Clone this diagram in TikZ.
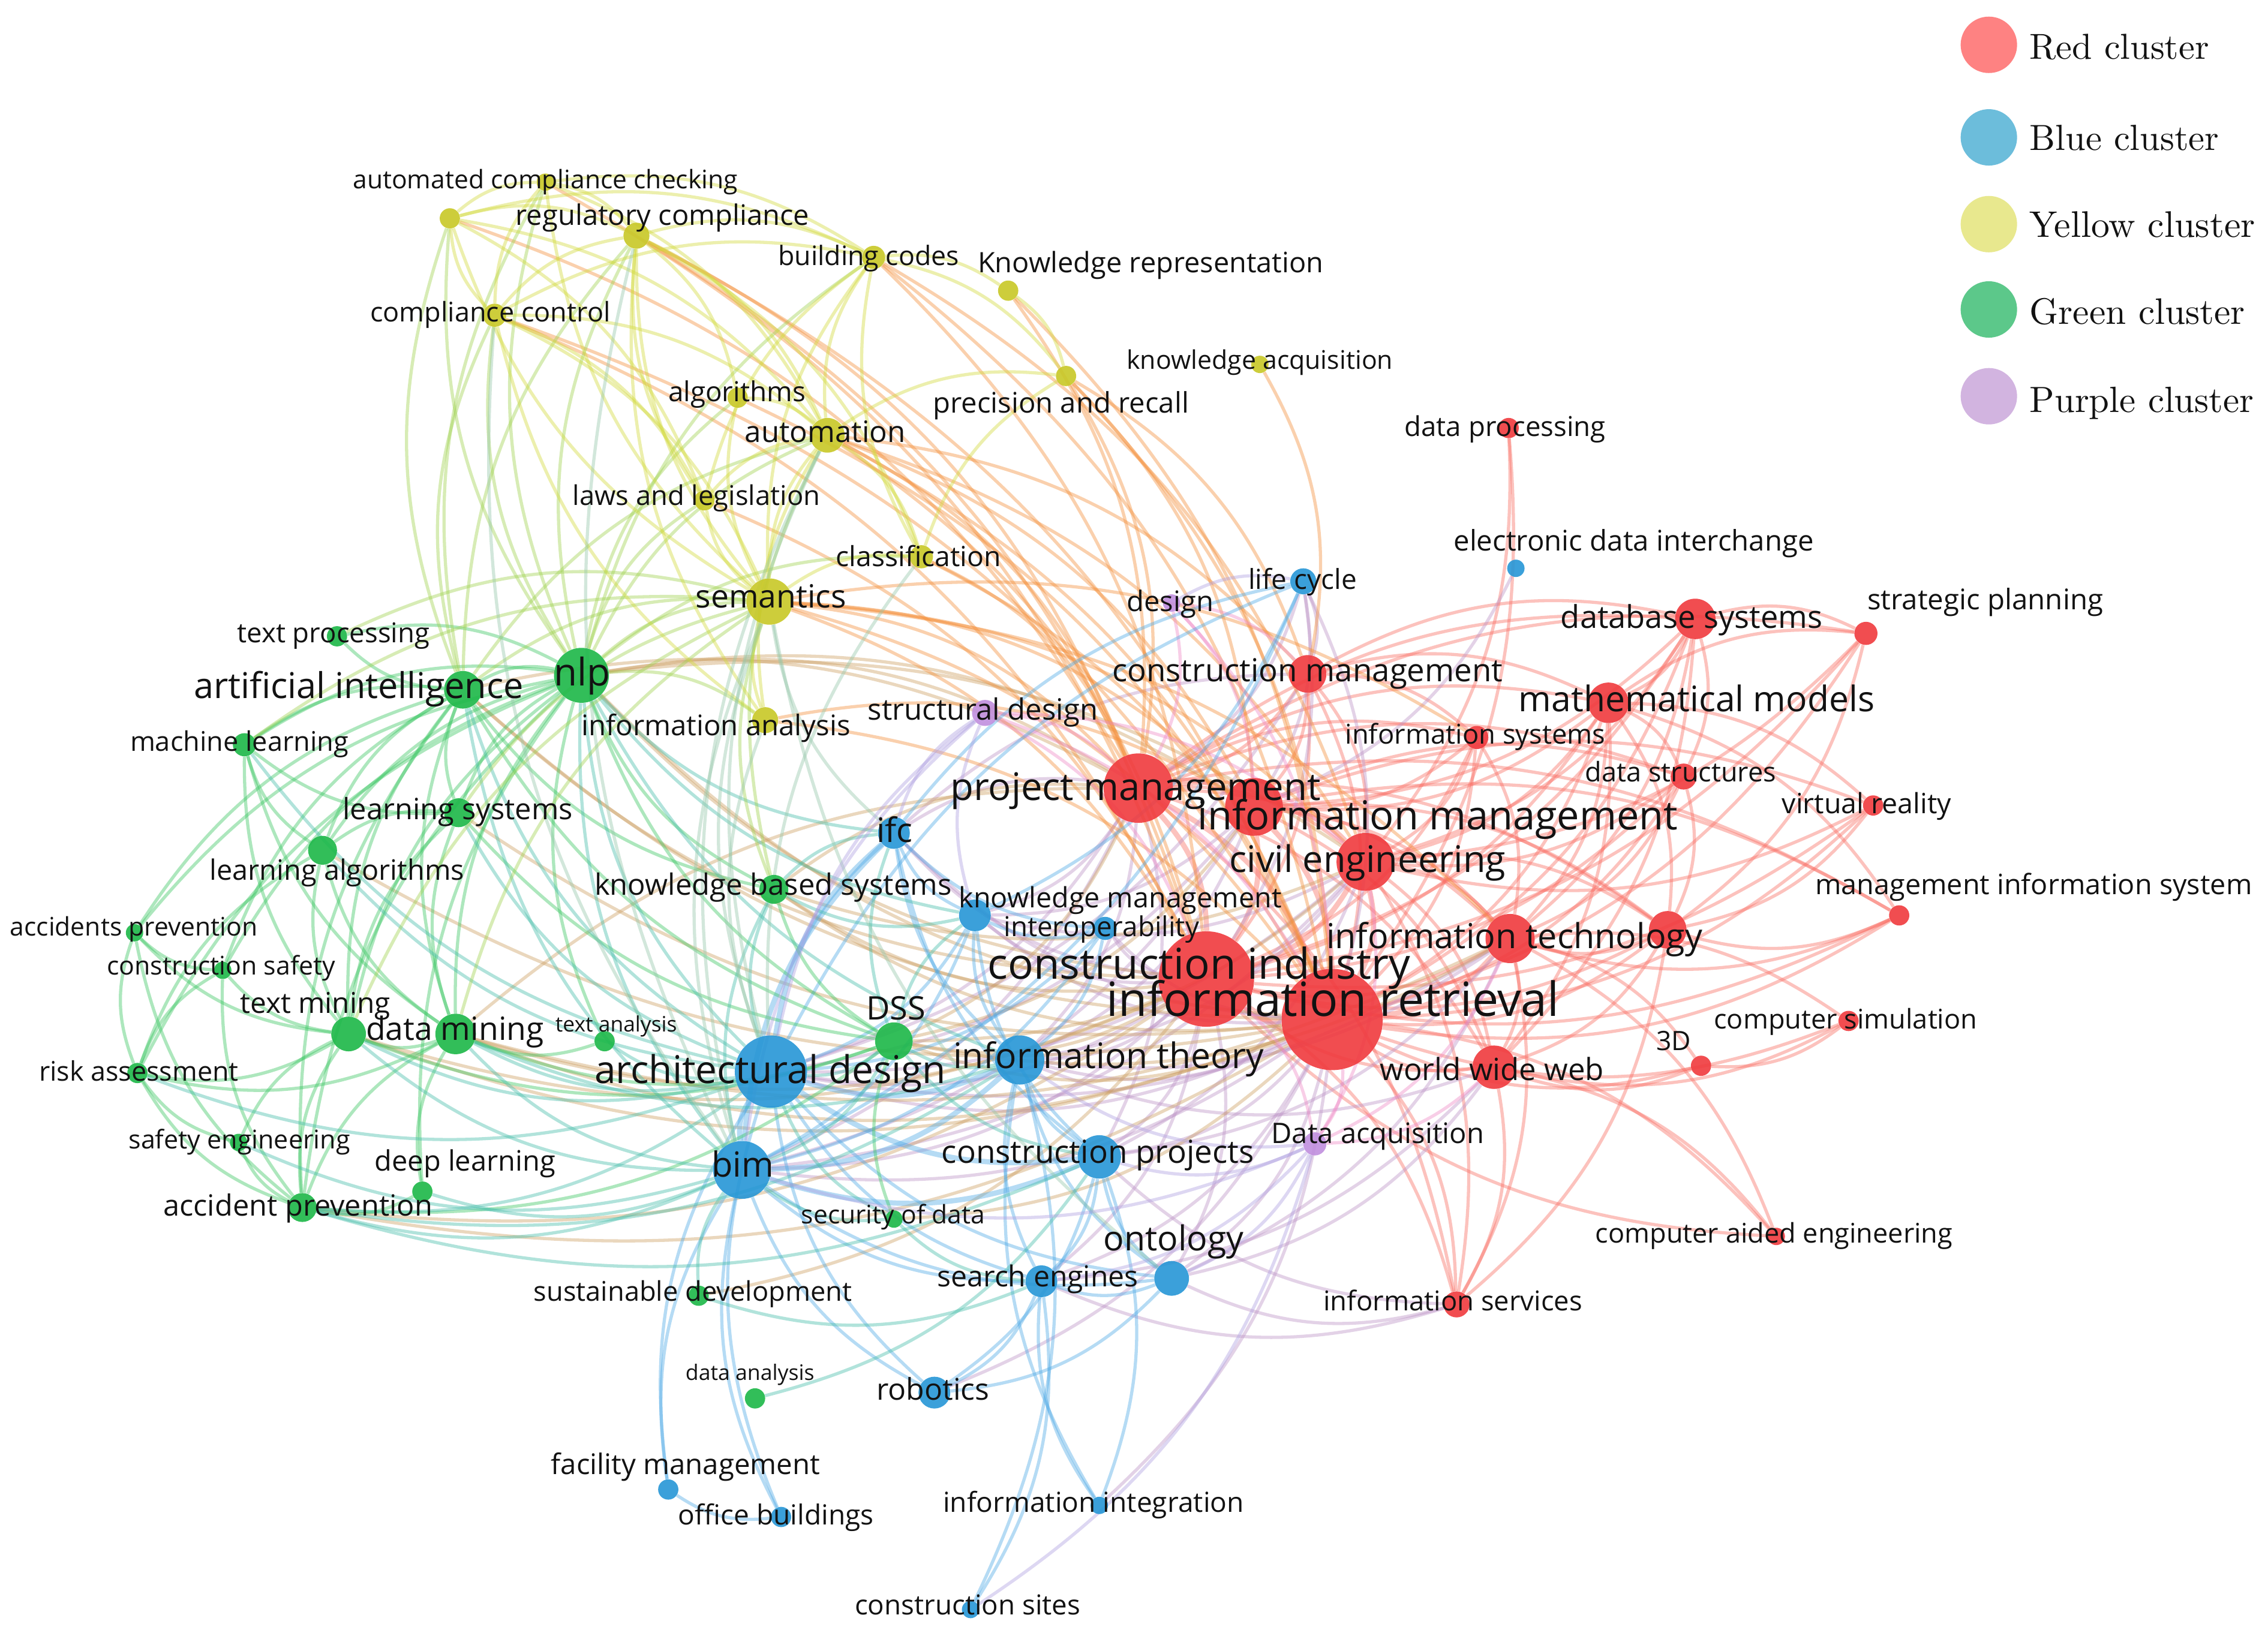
\documentclass[tikz,border=0pt]{standalone}
\usepackage{fontspec}
\newfontfamily\osans{Open Sans}
\usepackage{graphicx}
\usetikzlibrary{calc}
\pgfdeclarelayer{bg}
\pgfdeclarelayer{edges}
\pgfsetlayers{bg,edges,main}
% node colours
\definecolor{nR}{RGB}{240,58,62}
\definecolor{nB}{RGB}{38,150,214}
\definecolor{nG}{RGB}{28,184,72}
\definecolor{nY}{RGB}{200,200,38}
\definecolor{nP}{RGB}{192,142,222}
% legend colours
\definecolor{lgR}{RGB}{254,130,130}
\definecolor{lgB}{RGB}{108,189,219}
\definecolor{lgY}{RGB}{232,232,142}
\definecolor{lgG}{RGB}{92,200,138}
\definecolor{lgP}{RGB}{210,180,224}
% edge colours
\definecolor{cRR}{RGB}{250,110,100}
\definecolor{cBB}{RGB}{80,170,230}
\definecolor{cGG}{RGB}{60,200,100}
\definecolor{cYY}{RGB}{210,218,60}
\definecolor{cRY}{RGB}{245,145,60}
\definecolor{cRB}{RGB}{190,150,200}
\definecolor{cRG}{RGB}{205,160,100}
\definecolor{cBG}{RGB}{70,190,170}
\definecolor{cGY}{RGB}{160,210,80}
\definecolor{cBY}{RGB}{150,200,170}
\definecolor{cRP}{RGB}{240,140,200}
\definecolor{cBP}{RGB}{175,160,225}
\definecolor{txt}{RGB}{18,18,18}
\tikzset{
  kw/.style={circle,inner sep=0pt,draw=none,fill opacity=.9},
  rn/.style={kw,fill=nR,minimum size=2*#1},
  bn/.style={kw,fill=nB,minimum size=2*#1},
  gn/.style={kw,fill=nG,minimum size=2*#1},
  yn/.style={kw,fill=nY,minimum size=2*#1},
  pn/.style={kw,fill=nP,minimum size=2*#1},
  lab/.style={inner sep=0pt,text=txt},
  ebase/.style={line width=2.2pt,draw opacity=.42},
  hv/.style={line width=3.6pt},
  eRR/.style={ebase,draw=cRR}, eBB/.style={ebase,draw=cBB},
  eGG/.style={ebase,draw=cGG}, eYY/.style={ebase,draw=cYY},
  eRY/.style={ebase,draw=cRY}, eRB/.style={ebase,draw=cRB},
  eRG/.style={ebase,draw=cRG}, eBG/.style={ebase,draw=cBG},
  eGY/.style={ebase,draw=cGY}, eBY/.style={ebase,draw=cBY},
  eRP/.style={ebase,draw=cRP}, eBP/.style={ebase,draw=cBP},
  legc/.style={circle,inner sep=0pt,draw=none,minimum size=39},
  legl/.style={inner sep=0pt,anchor=west,text=txt}
}
\newcommand\kwl[2]{\resizebox{#1pt}{!}{\osans\strut #2}}
\newcommand\legt[2]{\resizebox{#1pt}{!}{\strut #2}}
\newcommand\kwlink[3]{\draw[#1] let \p1=(#2), \p2=(#3),
  \n1={20*sign((\x2-\x1)/100*((\y1+\y2)/200+6)-(\y2-\y1)/100*((\x1+\x2)/200-7))}
  in (#2) to[bend left=\n1] (#3);}
\begin{document}
\begin{tikzpicture}[x=1pt,y=-1pt]
\begin{pgfonlayer}{bg}
\fill[white] (0,0) rectangle (1568,1131);
\end{pgfonlayer}
\useasboundingbox (0,0) rectangle (1568,1131);
% ---------- red nodes
\node[rn=35] (ir) at (921,705) {};
\node[rn=33] (ci) at (834,677) {};
\node[rn=24] (pm) at (787,545) {};
\node[rn=20] (im) at (867,558) {};
\node[rn=20] (ce) at (944,596) {};
\node[rn=17] (it) at (1044,649) {};
\node[rn=13] (xr) at (1153,643) {};
\node[rn=15] (www) at (1033,738) {};
\node[rn=14] (dbs) at (1172,428) {};
\node[rn=14] (mm) at (1112,486) {};
\node[rn=13] (cm) at (904,466) {};
\node[rn=8] (isys) at (1021,510) {};
\node[rn=9] (dstr) at (1164,537) {};
\node[rn=8] (sp) at (1290,438) {};
\node[rn=7] (vr) at (1295,557) {};
\node[rn=7] (mis) at (1313,633) {};
\node[rn=7] (csim) at (1278,706) {};
\node[rn=7] (td) at (1176,737) {};
\node[rn=6] (cae) at (1228,855) {};
\node[rn=9] (isvc) at (1007,902) {};
\node[rn=7] (dp) at (1043,296) {};
% ---------- blue nodes
\node[bn=25] (ad) at (533,741) {};
\node[bn=20] (bim) at (513,809) {};
\node[bn=17] (ith) at (705,733) {};
\node[bn=15] (cp) at (760,800) {};
\node[bn=12] (ont) at (810,884) {};
\node[bn=11] (se) at (720,886) {};
\node[bn=11] (rob) at (646,963) {};
\node[bn=11] (ifc) at (618,576) {};
\node[bn=11] (km) at (674,633) {};
\node[bn=8] (io) at (764,642) {};
\node[bn=9] (lc) at (901,402) {};
\node[bn=6] (edi) at (1048,393) {};
\node[bn=7] (fm) at (462,1030) {};
\node[bn=7] (ob) at (540,1049) {};
\node[bn=6] (ii) at (760,1041) {};
\node[bn=6] (cst) at (671,1113) {};
% ---------- green nodes
\node[gn=19] (nlp) at (402,467) {};
\node[gn=13] (ai) at (320,477) {};
\node[gn=7] (tp) at (233,440) {};
\node[gn=8] (ml) at (169,515) {};
\node[gn=10] (ls) at (317,562) {};
\node[gn=10] (la) at (223,588) {};
\node[gn=10] (kbs) at (535,615) {};
\node[gn=6] (acp) at (93,645) {};
\node[gn=6] (cs) at (154,671) {};
\node[gn=12] (tm) at (241,715) {};
\node[gn=14] (dm) at (315,715) {};
\node[gn=7] (ta) at (418,720) {};
\node[gn=7] (ra) at (95,742) {};
\node[gn=6] (seng) at (165,790) {};
\node[gn=7] (dl) at (292,824) {};
\node[gn=10] (ap) at (209,835) {};
\node[gn=13] (dss) at (618,720) {};
\node[gn=6] (sec) at (618,843) {};
\node[gn=7] (sd) at (483,896) {};
\node[gn=7] (dan) at (522,967) {};
% ---------- yellow nodes
\node[yn=6] (acc) at (377,126) {};
\node[yn=7] (xy) at (311,151) {};
\node[yn=9] (rc) at (440,163) {};
\node[yn=8] (cc) at (342,218) {};
\node[yn=8] (bc) at (604,178) {};
\node[yn=7] (kr) at (697,201) {};
\node[yn=7] (alg) at (510,275) {};
\node[yn=12] (aut) at (572,301) {};
\node[yn=7] (pr) at (737,260) {};
\node[yn=6] (ka) at (871,252) {};
\node[yn=7] (lal) at (487,346) {};
\node[yn=8] (cls) at (637,385) {};
\node[yn=16] (sem) at (532,416) {};
\node[yn=9] (ia) at (529,498) {};
% ---------- purple nodes
\node[pn=6] (des) at (810,417) {};
\node[pn=9] (sdes) at (681,493) {};
\node[pn=8] (da) at (909,791) {};
% ---------- edges
\begin{pgfonlayer}{edges}
\foreach \a/\b in {ir/ci,ir/pm,ir/im,ir/ce,ir/it,ci/pm,ci/ce,pm/im,im/ce,ci/im}{\kwlink{eRR,hv}{\a}{\b}}
\foreach \a/\b in {ir/www,ir/cm,ir/dbs,ir/mm,ir/isys,ir/dstr,ir/vr,ir/mis,ir/csim,ir/td,ir/cae,ir/isvc,ir/dp,ir/sp,ir/xr,
 ci/it,ci/www,ci/cm,ci/dbs,ci/mm,ci/isys,ci/dstr,ci/vr,ci/mis,ci/isvc,ci/cae,ci/sp,ci/xr,
 pm/ce,pm/it,pm/www,pm/cm,pm/dbs,pm/mm,pm/isys,pm/dstr,pm/mis,pm/sp,pm/xr,pm/isvc,
 im/it,im/www,im/cm,im/dbs,im/mm,im/isys,im/dstr,im/vr,im/mis,im/xr,
 ce/it,ce/www,ce/cm,ce/dbs,ce/mm,ce/isys,ce/dstr,ce/sp,ce/xr,ce/vr,
 it/www,it/dbs,it/mm,it/isys,it/dstr,it/mis,it/csim,it/xr,it/cae,
 www/dbs,www/mm,www/isvc,www/td,www/xr,www/csim,www/cae,
 cm/dbs,cm/mm,cm/isys,dbs/mm,dbs/dstr,dbs/sp,mm/dstr,mm/sp,mm/vr,mm/mis,mm/xr,
 xr/sp,xr/vr,xr/mis,xr/dstr,td/csim,isvc/it,isvc/xr,isvc/ce,dp/ce,td/it}{\kwlink{eRR}{\a}{\b}}
\foreach \a/\b in {ir/ad,ir/bim,ir/ith,ir/cp,ir/ont,ir/se,ir/ifc,ir/km,ir/io,ir/lc,ir/ii,ir/rob,
 ci/ad,ci/bim,ci/ith,ci/cp,ci/ifc,ci/km,ci/io,ci/lc,ci/ont,ci/se,
 pm/ad,pm/bim,pm/ifc,pm/km,pm/ith,pm/lc,pm/cp,
 im/ad,im/bim,im/ith,im/km,im/lc,im/edi,
 ce/ad,ce/ith,ce/km,ce/cp,ce/bim,
 it/ad,it/ith,it/cp,it/ont,
 www/ith,www/se,www/ont,isvc/ont,isvc/se,isvc/cp,cm/ad,cm/lc,cm/ifc}{\kwlink{eRB}{\a}{\b}}
\foreach \a/\b in {ir/nlp,ir/ai,ir/dm,ir/dss,ir/kbs,ir/tm,ci/nlp,ci/dm,ci/dss,ci/ai,ci/kbs,pm/nlp,pm/ai,pm/kbs,pm/dss,
 im/nlp,im/dss,ce/nlp,ce/kbs,ce/dss,ir/ls,ci/ap,ir/ap,pm/dm,it/dss,it/dm,ir/sec,ci/sd,ci/tm,ir/la}{\kwlink{eRG}{\a}{\b}}
\foreach \a/\b in {ir/sem,ir/aut,ir/rc,ir/cc,ir/pr,ir/kr,ir/cls,ir/ia,ir/bc,ci/sem,ci/aut,ci/rc,ci/cc,ci/bc,ci/lal,
 pm/sem,pm/aut,pm/rc,pm/cls,pm/kr,pm/pr,im/sem,im/aut,im/pr,ce/sem,ce/aut,ce/bc,cm/aut,cm/pr,cm/ka,
 it/sem,isys/sem,ir/alg,pm/xy,ci/acc,im/ia}{\kwlink{eRY}{\a}{\b}}
\foreach \a/\b in {ir/des,ir/sdes,ir/da,ci/sdes,ci/da,pm/sdes,pm/des,im/des,ce/sdes,ce/da,www/da,it/da,cm/des}{\kwlink{eRP}{\a}{\b}}
\foreach \a/\b in {ad/bim,ad/ith,bim/ith,ad/cp,bim/cp,ad/ifc,bim/ifc}{\kwlink{eBB,hv}{\a}{\b}}
\foreach \a/\b in {ad/km,ad/se,ad/ont,ad/rob,ad/io,ad/fm,ad/ob,
 bim/km,bim/se,bim/ont,bim/rob,bim/fm,bim/ob,bim/io,
 ith/cp,ith/km,ith/ifc,ith/se,ith/ont,ith/io,ith/ii,ith/cst,
 cp/se,cp/ont,cp/rob,cp/ii,cp/km,ifc/km,ifc/io,ifc/lc,ont/se,se/rob,se/ii,se/cst,
 rob/ont,fm/ob,km/io,lc/km,lc/ad,lc/bim,ifc/cp}{\kwlink{eBB}{\a}{\b}}
\foreach \a/\b in {nlp/ai,nlp/tp,nlp/ml,nlp/ls,nlp/la,nlp/kbs,nlp/dm,nlp/tm,nlp/ta,nlp/dss,nlp/ap,nlp/dl,nlp/ra,nlp/cs,nlp/acp,
 ai/tp,ai/ml,ai/ls,ai/la,ai/dm,ai/tm,ai/kbs,ai/dss,ai/acp,ai/cs,
 ml/ls,ml/la,ml/tm,ml/dm,ls/la,ls/dm,ls/tm,la/dm,la/tm,la/ra,
 dm/tm,dm/ta,dm/dss,dm/ap,dm/ra,tm/ra,tm/ap,tm/acp,tm/cs,tm/seng,
 ap/ra,ap/seng,ap/cs,ap/acp,ap/dl,acp/ra,acp/cs,cs/ra,ra/seng,dl/dm,
 dss/kbs,dss/sec,ap/dss,tm/dss,ls/dss,ai/ap}{\kwlink{eGG}{\a}{\b}}
\foreach \a/\b in {nlp/ad,nlp/bim,nlp/ifc,nlp/ith,ai/ad,ai/bim,dm/ad,dm/bim,dm/ith,tm/ad,tm/bim,
 dss/ad,dss/bim,dss/ith,dss/cp,kbs/ad,kbs/bim,kbs/ifc,kbs/km,ap/bim,ap/ad,ap/ith,ap/cp,
 dl/bim,sec/bim,sec/ad,sec/se,sd/bim,sd/se,dan/cp,ls/ad,la/ad,ml/ad,ra/ad,seng/bim,ta/ad,
 dss/km,dss/ifc,nlp/km}{\kwlink{eBG}{\a}{\b}}
\foreach \a/\b in {nlp/sem,nlp/aut,nlp/rc,nlp/cc,nlp/acc,nlp/lal,nlp/alg,nlp/ia,nlp/bc,nlp/cls,
 ai/sem,ai/cc,ai/aut,ai/rc,ai/acc,tp/sem,ls/sem,dm/sem,kbs/sem,kbs/aut,tm/sem,ml/sem,nlp/xy,ai/xy}{\kwlink{eGY}{\a}{\b}}
\foreach \a/\b in {acc/rc,acc/cc,acc/xy,xy/rc,xy/cc,xy/bc,xy/aut,xy/sem,xy/lal,
 rc/cc,rc/bc,rc/aut,rc/sem,rc/alg,rc/lal,rc/ia,rc/cls,cc/bc,cc/aut,cc/sem,cc/lal,cc/ia,
 bc/aut,bc/sem,bc/kr,bc/pr,bc/cls,bc/lal,alg/aut,aut/sem,aut/lal,aut/cls,aut/pr,aut/ia,
 sem/lal,sem/cls,sem/ia,kr/pr,pr/cls,acc/bc,acc/sem,acc/aut,alg/sem}{\kwlink{eYY}{\a}{\b}}
\foreach \a/\b in {sem/ad,sem/bim,sem/ifc,aut/bim,aut/ad,cc/bim,rc/bim,sem/ont,ia/ad,cls/ad}{\kwlink{eBY}{\a}{\b}}
\foreach \a/\b in {sdes/ad,sdes/bim,sdes/ifc,da/ont,da/se,da/cp,da/bim,des/lc,da/ith,sdes/km,da/cst}{\kwlink{eBP}{\a}{\b}}
\end{pgfonlayer}
% ---------- labels: red
\node[lab] (tir) at (921.5,695) {\kwl{313}{information retrieval}};
\node[lab] (tci) at (829,670) {\kwl{292}{construction industry}};
\node[lab] (tpm) at (785,547) {\kwl{256}{project management}};
\node[lab] (tim) at (994,567) {\kwl{332}{information management}};
\node[lab] (tce) at (945.5,597) {\kwl{191}{civil engineering}};
\node[lab] (tit) at (1047,650) {\kwl{260}{information technology}};
\node[lab] (twww) at (1031.5,742) {\kwl{155}{world wide web}};
\node[lab] (tdbs) at (1169.5,429) {\kwl{181}{database systems}};
\node[lab] (tmm) at (1173,486) {\kwl{246}{mathematical models}};
\node[lab] (tcm) at (904,466) {\kwl{270}{construction management}};
\node[lab] (tisys) at (1020,510) {\kwl{180}{information systems}};
\node[lab] (tdstr) at (1162,536) {\kwl{132}{data structures}};
\node[lab] (tsp) at (1372.5,417) {\kwl{163}{strategic planning}};
\node[lab] (tvr) at (1290.5,558) {\kwl{117}{virtual reality}};
\node[lab] (tmis) at (1406,614) {\kwl{302}{management information system}};
\node[lab] (tcsim) at (1276,707) {\kwl{182}{computer simulation}};
\node[lab] (ttd) at (1157,722) {\kwl{24}{3D}};
\node[lab] (tcae) at (1226.5,855) {\kwl{247}{computer aided engineering}};
\node[lab] (tisvc) at (1004.5,902) {\kwl{179}{information services}};
\node[lab] (tdp) at (1040.5,297) {\kwl{139}{data processing}};
% ---------- labels: blue
\node[lab] (tad) at (532.5,743) {\kwl{243}{architectural design}};
\node[lab] (tbim) at (513.5,808) {\kwl{43}{bim}};
\node[lab] (tith) at (766.5,733) {\kwl{215}{information theory}};
\node[lab] (tcp) at (759,799) {\kwl{216}{construction projects}};
\node[lab] (tont) at (811.5,859) {\kwl{97}{ontology}};
\node[lab] (tse) at (717.5,885) {\kwl{139}{search engines}};
\node[lab] (trob) at (645,963) {\kwl{78}{robotics}};
\node[lab] (tifc) at (618.5,577) {\kwl{25}{ifc}};
\node[lab] (tkm) at (774.5,623) {\kwl{223}{knowledge management}};
\node[lab] (tio) at (761.5,643) {\kwl{135}{interoperability}};
\node[lab] (tlc) at (900.5,403) {\kwl{75}{life cycle}};
\node[lab] (tedi) at (1129.5,376) {\kwl{249}{electronic data interchange}};
\node[lab] (tfm) at (474,1015) {\kwl{186}{facility management}};
\node[lab] (tob) at (536.5,1050) {\kwl{135}{office buildings}};
\node[lab] (tii) at (756,1041) {\kwl{208}{information integration}};
\node[lab] (tcst) at (669,1112) {\kwl{156}{construction sites}};
% ---------- labels: green
\node[lab] (tnlp) at (402.5,468) {\kwl{39}{nlp}};
\node[lab] (tai) at (248,477) {\kwl{228}{artificial intelligence}};
\node[lab] (ttp) at (230.5,440) {\kwl{133}{text processing}};
\node[lab] (tml) at (165.5,515) {\kwl{151}{machine learning}};
\node[lab] (tls) at (316.5,562) {\kwl{159}{learning systems}};
\node[lab] (tla) at (233,604) {\kwl{176}{learning algorithms}};
\node[lab] (tkbs) at (534.5,614) {\kwl{247}{knowledge based systems}};
\node[lab] (tacp) at (92.5,643) {\kwl{171}{accidents prevention}};
\node[lab] (tcs) at (153,670) {\kwl{158}{construction safety}};
\node[lab] (ttm) at (218,696) {\kwl{104}{text mining}};
\node[lab] (tdm) at (314.5,714) {\kwl{123}{data mining}};
\node[lab] (tta) at (426,710) {\kwl{84}{text analysis}};
\node[lab] (tra) at (96,743) {\kwl{138}{risk assessment}};
\node[lab] (tseng) at (165.5,790) {\kwl{153}{safety engineering}};
\node[lab] (tdl) at (321.5,805) {\kwl{125}{deep learning}};
\node[lab] (tap) at (206,836) {\kwl{186}{accident prevention}};
\node[lab] (tdss) at (619.5,700) {\kwl{41}{DSS}};
\node[lab] (tsec) at (617.5,842) {\kwl{127}{security of data}};
\node[lab] (tsd) at (479,895) {\kwl{220}{sustainable development}};
\node[lab] (tdan) at (518.5,951) {\kwl{89}{data analysis}};
% ---------- labels: yellow
\node[lab] (tacc) at (377,126) {\kwl{266}{automated compliance checking}};
\node[lab] (trc) at (458,151) {\kwl{203}{regulatory compliance}};
\node[lab] (tbc) at (600.5,179) {\kwl{125}{building codes}};
\node[lab] (tkr) at (795.5,184) {\kwl{239}{Knowledge representation}};
\node[lab] (tcc) at (339,218) {\kwl{166}{compliance control}};
\node[lab] (talg) at (509.5,273) {\kwl{95}{algorithms}};
\node[lab] (taut) at (570.5,301) {\kwl{111}{automation}};
\node[lab] (tpr) at (733.5,281) {\kwl{177}{precision and recall}};
\node[lab] (tka) at (871,251) {\kwl{184}{knowledge acquisition}};
\node[lab] (tlal) at (481.5,345) {\kwl{171}{laws and legislation}};
\node[lab] (tcls) at (635,387) {\kwl{114}{classification}};
\node[lab] (tsem) at (533,415) {\kwl{104}{semantics}};
\node[lab] (tia) at (495,504) {\kwl{186}{information analysis}};
% ---------- labels: purple
\node[lab] (tdes) at (809,418) {\kwl{60}{design}};
\node[lab] (tsdes) at (679.5,493) {\kwl{159}{structural design}};
\node[lab] (tda) at (952.5,786) {\kwl{147}{Data acquisition}};
% ---------- legend
\node[legc,fill=lgR] (lg1) at (1375,31) {};
\node[legc,fill=lgB] (lg2) at (1375,95) {};
\node[legc,fill=lgY] (lg3) at (1375,155) {};
\node[legc,fill=lgG] (lg4) at (1375,214) {};
\node[legc,fill=lgP] (lg5) at (1375,274) {};
\node[legl] (lt1) at (1403,35) {\legt{124}{Red cluster}};
\node[legl] (lt2) at (1403,98) {\legt{131}{Blue cluster}};
\node[legl] (lt3) at (1403,158) {\legt{156}{Yellow cluster}};
\node[legl] (lt4) at (1403,218) {\legt{149}{Green cluster}};
\node[legl] (lt5) at (1403,279) {\legt{155}{Purple cluster}};
\end{tikzpicture}
\end{document}
